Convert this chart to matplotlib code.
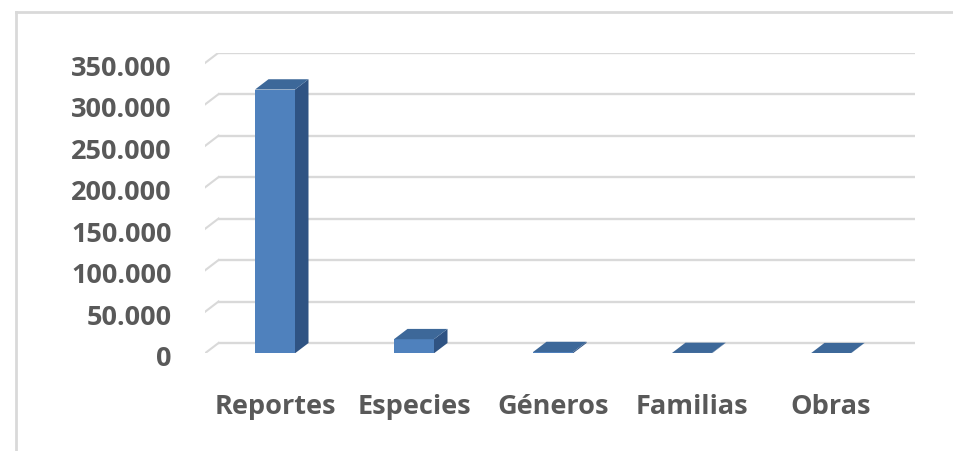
import matplotlib
matplotlib.use("Agg")
import matplotlib.pyplot as plt
from matplotlib.patches import Polygon
from matplotlib.lines import Line2D
from matplotlib.transforms import ScaledTranslation

# ---- data ----
categories = ["Reportes", "Especies", "Géneros", "Familias", "Obras"]
values = [318000, 17000, 1500, 400, 150]
yticks = [0, 50000, 100000, 150000, 200000, 250000, 300000, 350000]
ytick_labels = ["0", "50.000", "100.000", "150.000", "200.000", "250.000", "300.000", "350.000"]

# ---- style ----
FRONT = "#4F81BD"
TOP = "#3D6899"
SIDE = "#2F5383"
GRID = "#D9D9D9"
TXT = "#595959"
FONT = ["Open Sans", "DejaVu Sans"]

W, H = 954, 451
fig = plt.figure(figsize=(W / 100, H / 100), dpi=100)
fig.patch.set_facecolor("white")

# axes placement in pixels
ax_left, ax_right = 205, 915
ax_top, ax_bottom = 52.7, 353.3
ax = fig.add_axes([ax_left / W, (H - ax_bottom) / H, (ax_right - ax_left) / W, (ax_bottom - ax_top) / H])

spacing_px = 139.0
x0_px = 275.0
xmin = (ax_left - x0_px) / spacing_px
xmax = (ax_right - x0_px) / spacing_px
px_per_unit_y = 290.6 / 350000.0
depth_dx = 13.5 / spacing_px
depth_dy = 10.3 / px_per_unit_y
ymax = 350000 + depth_dy
ax.set_xlim(xmin, xmax)
ax.set_ylim(0, ymax)
for s in ax.spines.values():
    s.set_visible(False)
ax.patch.set_visible(False)

# back-wall gridlines and oblique side-wall lines
for t in yticks:
    ax.add_line(Line2D([xmin + depth_dx, xmax], [t + depth_dy, t + depth_dy],
                       color=GRID, lw=1.7, zorder=1, solid_capstyle="butt"))
    ax.add_line(Line2D([xmin, xmin + depth_dx], [t, t + depth_dy],
                       color=GRID, lw=1.5, zorder=1))

# bars
xpos = list(range(len(categories)))
bw = 40.0 / spacing_px
ax.bar(xpos, values, width=bw, color=FRONT, zorder=3, linewidth=0)
for x, v in zip(xpos, values):
    l, r = x - bw / 2, x + bw / 2
    top = Polygon([(l, v), (r, v), (r + depth_dx, v + depth_dy), (l + depth_dx, v + depth_dy)],
                  closed=True, facecolor=TOP, edgecolor="none", zorder=3)
    side = Polygon([(r, 0), (r + depth_dx, depth_dy), (r + depth_dx, v + depth_dy), (r, v)],
                   closed=True, facecolor=SIDE, edgecolor="none", zorder=3)
    ax.add_patch(side)
    ax.add_patch(top)

# ticks
ax.set_yticks(yticks)
ax.set_yticklabels(ytick_labels, fontsize=19.5, fontweight="bold", color=TXT, family=FONT)
ax.tick_params(axis="y", length=0, pad=23.8)
for lbl in ax.get_yticklabels():
    lbl.set_transform(lbl.get_transform() + ScaledTranslation(0, -3 / 100, fig.dpi_scale_trans))

ax.set_xticks(xpos)
ax.set_xticklabels(categories, fontsize=19.5, fontweight="bold", color=TXT, family=FONT)
ax.tick_params(axis="x", length=0, pad=29)

# chart frame (left & top border)
fig.add_artist(Line2D([16.5 / W, 16.5 / W], [0, (H - 11.5) / H], transform=fig.transFigure,
                      color=GRID, lw=2))
fig.add_artist(Line2D([16.5 / W, 1], [(H - 11.5) / H, (H - 11.5) / H], transform=fig.transFigure,
                      color=GRID, lw=2))

fig.savefig("out.png", dpi=100, facecolor="white")
